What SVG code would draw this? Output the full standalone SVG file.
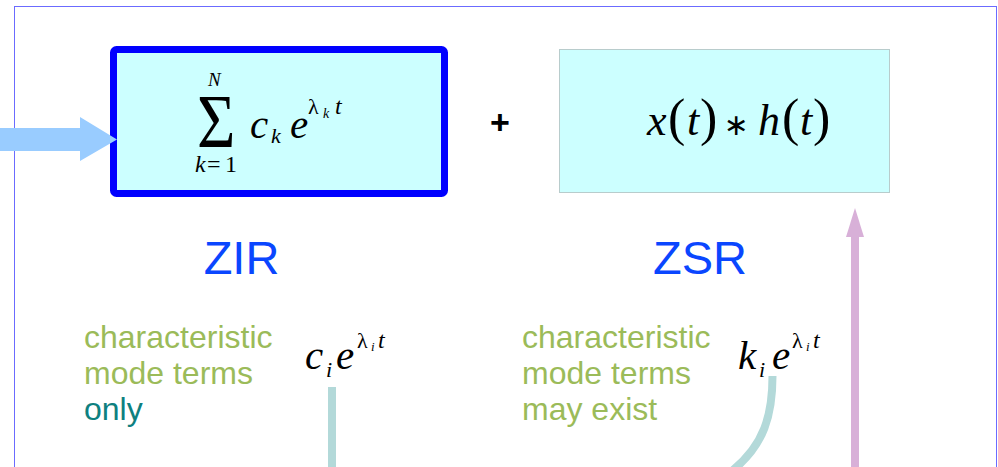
<svg xmlns="http://www.w3.org/2000/svg" width="998" height="467" viewBox="0 0 998 467">
<style>
.m{font-family:"Liberation Serif",serif;font-style:italic;fill:#000}
.u{font-family:"Liberation Serif",serif;font-style:normal;fill:#000}
.lbl{font-family:"Liberation Sans",Arial,sans-serif;font-size:47px;fill:#0a46ff;text-anchor:middle}
.g{font-family:"Liberation Sans",Arial,sans-serif;font-size:32px;fill:#9bbb59}
.teal{fill:#0e8080}
</style>
<rect width="998" height="467" fill="#fff"/>
<rect id="frame" x="14.5" y="6.5" width="982" height="480" fill="none" stroke="#6b6bff" stroke-width="1"/>
<g id="zir-box">
<rect x="113.5" y="49.5" width="331" height="144" rx="3" fill="#ccffff" stroke="#0000ff" stroke-width="7"/>
<text class="m" x="208" y="86" font-size="19">N</text>
<text class="u" font-size="60" transform="translate(197,147) scale(1.1,1.28)">Σ</text>
<text class="m" x="195" y="172" font-size="24">k</text>
<text class="u" x="207" y="172" font-size="24">=</text>
<text class="u" x="225" y="172" font-size="24">1</text>
<text class="m" x="250" y="138" font-size="41">c</text>
<text class="m" x="271" y="143" font-size="22">k</text>
<text class="m" x="290" y="138" font-size="41">e</text>
<text class="u" x="308" y="114" font-size="22">λ</text>
<text class="m" x="323" y="118" font-size="14">k</text>
<text class="m" x="335" y="114" font-size="24">t</text>
</g>
<g id="plus"><text x="500" y="134" font-family="Liberation Sans,Arial,sans-serif" font-weight="bold" font-size="34" text-anchor="middle">+</text></g>
<g id="zsr-box">
<rect x="559.5" y="49.5" width="330" height="143" fill="#ccffff" stroke="#b8cccc" stroke-width="1"/>
<text class="m" x="647" y="135" font-size="44">x</text>
<text class="u" x="668" y="135" font-size="52">(</text>
<text class="m" x="687" y="135" font-size="44">t</text>
<text class="u" x="700" y="135" font-size="52">)</text>
<text x="736" y="135" font-family="DejaVu Sans,sans-serif" font-size="30" text-anchor="middle">∗</text>
<text class="m" x="758" y="135" font-size="44">h</text>
<text class="u" x="782" y="135" font-size="52">(</text>
<text class="m" x="800" y="135" font-size="44">t</text>
<text class="u" x="813" y="135" font-size="52">)</text>
</g>
<g id="zir-label"><text class="lbl" x="241.5" y="274">ZIR</text></g>
<g id="zsr-label"><text class="lbl" x="700" y="274">ZSR</text></g>
<g id="zir-note">
<text class="g" x="84" y="348">characteristic</text>
<text class="g" x="84" y="384">mode terms</text>
<text class="g teal" x="84" y="420">only</text>
</g>
<g id="zsr-note">
<text class="g" x="522" y="348">characteristic</text>
<text class="g" x="522" y="384">mode terms</text>
<text class="g" x="522" y="420">may exist</text>
</g>
<g id="zir-term">
<text class="m" x="305" y="369" font-size="41">c</text>
<text class="m" x="326" y="377" font-size="22">i</text>
<text class="m" x="336" y="369" font-size="41">e</text>
<text class="u" x="357" y="348" font-size="22">λ</text>
<text class="m" x="371" y="351" font-size="13">i</text>
<text class="m" x="378" y="348" font-size="24">t</text>
</g>
<g id="zsr-term">
<text class="m" x="738" y="369" font-size="41">k</text>
<text class="m" x="759" y="377" font-size="22">i</text>
<text class="m" x="772" y="369" font-size="41">e</text>
<text class="u" x="792" y="348" font-size="22">λ</text>
<text class="m" x="806" y="351" font-size="13">i</text>
<text class="m" x="813" y="348" font-size="24">t</text>
</g>
<g id="connectors">
<polygon points="0,128 80,128 80,117 117,139.5 80,161 80,151 0,151" fill="#99ccff"/>
<line x1="332" y1="387" x2="332" y2="470" stroke="#b3d9d9" stroke-width="8"/>
<path d="M772.5,376 C772.5,415 764,445 733,470" fill="none" stroke="#b3d9d9" stroke-width="8"/>
<line x1="855" y1="470" x2="855" y2="235" stroke="#d8b0d8" stroke-width="8"/>
<polygon points="855,208 864,237 846,237" fill="#d8b0d8"/>
</g>
</svg>
